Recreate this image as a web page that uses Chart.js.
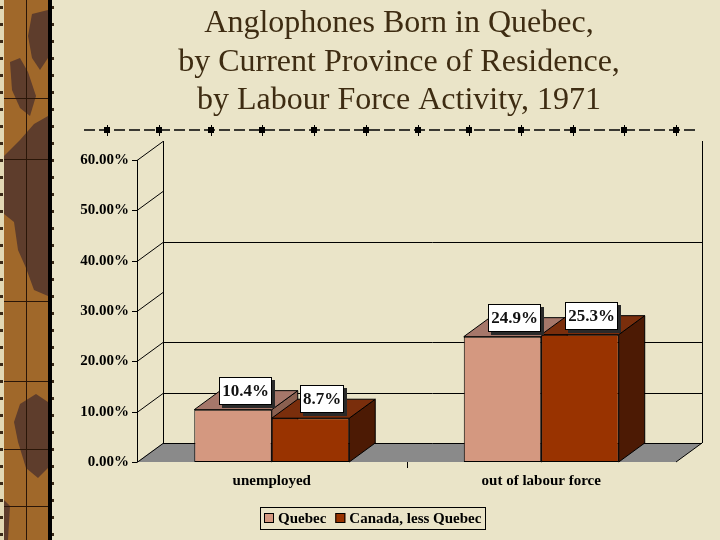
<!DOCTYPE html>
<html><head><meta charset="utf-8">
<script src="https://cdn.jsdelivr.net/npm/chart.js@4.4.1/dist/chart.umd.min.js"></script>
<style>html,body{margin:0;padding:0;background:#EAE4C8;}canvas{display:block}</style>
</head><body><canvas id="c" width="720" height="540"></canvas>
<script>
// ---- data ----
const titleLines = ['Anglophones Born in Quebec,', 'by Current Province of Residence,', 'by Labour Force Activity, 1971'];
const categories = ['unemployed', 'out of labour force'];
const seriesNames = ['Quebec', 'Canada, less Quebec'];
const quebecValues = [10.4, 24.9];
const canadaLessQuebecValues = [8.7, 25.3];
const yMin = 0, yMax = 60, yStep = 10;
const backGridValues = [10, 20, 40];

// ---- styles ----
const SERIF = '"Liberation Serif","Times New Roman",serif';
const DX = 26, DY = -19;
const PARCHMENT = '#EAE4C8';
const faces = [
  { front: '#D49880', top: '#A6776A', side: '#8A6050' },
  { front: '#993300', top: '#7A2E0C', side: '#4C1A04' }
];

function poly(ctx, pts, fill, stroke) {
  ctx.beginPath();
  ctx.moveTo(pts[0][0], pts[0][1]);
  for (let i = 1; i < pts.length; i++) ctx.lineTo(pts[i][0], pts[i][1]);
  ctx.closePath();
  if (fill) { ctx.fillStyle = fill; ctx.fill(); }
  if (stroke) { ctx.strokeStyle = stroke; ctx.lineWidth = 1; ctx.stroke(); }
}

function drawStrip(ctx) {
  ctx.fillStyle = '#E2D8B4'; ctx.fillRect(0, 0, 4, 540);
  ctx.fillStyle = '#A0682A'; ctx.fillRect(4, 0, 44, 540);
  const dark = '#5E3D2C';
  poly(ctx, [[32,14],[48,10],[48,58],[40,70],[32,58],[28,36]], dark);
  poly(ctx, [[10,62],[20,58],[28,72],[36,96],[30,116],[20,108],[12,90]], dark);
  poly(ctx, [[34,124],[48,116],[48,296],[34,290],[26,268],[18,250],[14,222],[4,214],[4,156],[20,140]], dark);
  poly(ctx, [[20,404],[36,394],[48,402],[48,468],[38,478],[26,468],[18,442],[14,422]], dark);
  poly(ctx, [[4,500],[10,506],[8,540],[4,540]], dark);
  ctx.strokeStyle = '#2A1608'; ctx.lineWidth = 1;
  ctx.beginPath(); ctx.moveTo(26.5, 0); ctx.lineTo(26.5, 540); ctx.stroke();
  [98, 159, 301, 381, 449, 506].forEach(y => {
    ctx.beginPath(); ctx.moveTo(4, y + 0.5); ctx.lineTo(48, y + 0.5); ctx.stroke();
  });
  ctx.fillStyle = '#000'; ctx.fillRect(48, 0, 4, 540);
  ctx.fillStyle = '#3A2A18';
  for (let y = 6; y < 540; y += 17) { ctx.fillRect(0, y, 3, 3); ctx.fillRect(52, y, 2, 3); }
}

function drawTitle(ctx) {
  ctx.save();
  ctx.fillStyle = '#3E2C12';
  ctx.font = '32px ' + SERIF;
  ctx.textAlign = 'center'; ctx.textBaseline = 'alphabetic';
  const base = [32, 71, 109];
  titleLines.forEach((t, i) => ctx.fillText(t, 399, base[i]));
  ctx.restore();
}

function drawRule(ctx) {
  ctx.save();
  ctx.strokeStyle = '#000'; ctx.lineWidth = 1.3;
  ctx.setLineDash([11, 4]);
  ctx.beginPath(); ctx.moveTo(84, 130); ctx.lineTo(696, 130); ctx.stroke();
  ctx.setLineDash([]);
  ctx.fillStyle = '#000'; ctx.lineWidth = 1;
  for (let i = 0; i < 12; i++) {
    const cx = Math.round(107.3 + i * 51.7);
    ctx.fillRect(cx - 3, 127, 6, 6);
    ctx.beginPath(); ctx.moveTo(cx + 0.5, 125); ctx.lineTo(cx + 0.5, 136); ctx.stroke();
  }
  ctx.restore();
}

const scenePlugin = {
  id: 'scene',
  beforeDraw(chart) {
    const ctx = chart.ctx;
    ctx.save();
    ctx.fillStyle = PARCHMENT; ctx.fillRect(0, 0, chart.width, chart.height);
    drawStrip(ctx);
    drawTitle(ctx);
    drawRule(ctx);
    const a = chart.chartArea, ys = chart.scales.y, xs = chart.scales.x;
    const L = a.left, R = a.right, B = ys.getPixelForValue(yMin), T = ys.getPixelForValue(yMax);
    poly(ctx, [[L, B], [R, B], [R + DX, B + DY], [L + DX, B + DY]], '#8A8A8A');
    ctx.strokeStyle = '#000'; ctx.lineWidth = 1;
    ctx.beginPath();
    ctx.moveTo(L + DX, B + DY + 0.5); ctx.lineTo(R + DX, B + DY + 0.5);
    ctx.moveTo(R, B); ctx.lineTo(R + DX, B + DY);
    ctx.stroke();
    backGridValues.forEach(v => {
      const y = Math.round(ys.getPixelForValue(v) + DY) + 0.5;
      ctx.beginPath(); ctx.moveTo(L + DX, y); ctx.lineTo(R + DX, y); ctx.stroke();
    });
    ctx.beginPath();
    ctx.moveTo(Math.round(L + DX) + 0.5, T + DY); ctx.lineTo(Math.round(L + DX) + 0.5, B + DY);
    ctx.moveTo(Math.round(R + DX) + 0.5, T + DY); ctx.lineTo(Math.round(R + DX) + 0.5, B + DY);
    ctx.stroke();
    ctx.beginPath();
    ctx.moveTo(Math.round(L) + 0.5, T); ctx.lineTo(Math.round(L) + 0.5, B);
    ys.ticks.forEach(t => {
      const y = Math.round(ys.getPixelForValue(t.value)) + 0.5;
      ctx.moveTo(L - 5, y); ctx.lineTo(L, y);
      ctx.moveTo(L, y); ctx.lineTo(L + DX, y + DY);
    });
    for (let i = 1; i < categories.length; i++) {
      const xm = Math.round((xs.getPixelForValue(i - 1) + xs.getPixelForValue(i)) / 2) + 0.5;
      ctx.moveTo(xm, B); ctx.lineTo(xm, B + 6);
    }
    ctx.stroke();
    ctx.restore();
  },
  beforeDatasetsDraw(chart) {
    const ctx = chart.ctx;
    ctx.save();
    for (let i = 0; i < categories.length; i++) {
      chart.data.datasets.forEach((ds, d) => {
        const bar = chart.getDatasetMeta(d).data[i];
        const p = bar.getProps(['x', 'y', 'width', 'base'], true);
        const l = p.x - p.width / 2, r = p.x + p.width / 2;
        poly(ctx, [[r, p.y], [r + DX, p.y + DY], [r + DX, p.base + DY], [r, p.base]], faces[d].side, '#000');
        poly(ctx, [[l, p.y], [r, p.y], [r + DX, p.y + DY], [l + DX, p.y + DY]], faces[d].top, '#000');
      });
    }
    ctx.restore();
  },
  afterDatasetsDraw(chart) {
    const ctx = chart.ctx;
    ctx.save();
    ctx.font = 'bold 17px ' + SERIF;
    ctx.textAlign = 'center'; ctx.textBaseline = 'middle';
    chart.data.datasets.forEach((ds, d) => {
      chart.getDatasetMeta(d).data.forEach((bar, i) => {
        const p = bar.getProps(['x', 'y'], true);
        const txt = ds.data[i].toFixed(1) + '%';
        const w = Math.round(ctx.measureText(txt).width + 6), h = 28;
        const cx = p.x + 12, cy = p.y - 19;
        const x0 = Math.round(cx - w / 2), y0 = Math.round(cy - h / 2);
        ctx.fillStyle = '#2a2a2a'; ctx.fillRect(x0 + 3, y0 + 3, w, h);
        ctx.fillStyle = '#fff'; ctx.fillRect(x0, y0, w, h);
        ctx.strokeStyle = '#000'; ctx.lineWidth = 1; ctx.strokeRect(x0 + 0.5, y0 + 0.5, w - 1, h - 1);
        ctx.fillStyle = '#111'; ctx.fillText(txt, x0 + w / 2, y0 + h / 2 + 1);
      });
    });
    ctx.restore();
  },
  afterDraw(chart) {
    const ctx = chart.ctx;
    ctx.save();
    ctx.font = 'bold 15px ' + SERIF;
    const widths = chart.data.datasets.map(ds => ctx.measureText(ds.label).width);
    const sq = 10, gap = 4, itemGap = 9, pad = 4;
    const total = pad * 2 + widths.reduce((s, w) => s + sq + gap + w, 0) + itemGap * (widths.length - 1);
    const cxL = 373, top = 507, h = 22;
    const x0 = Math.round(cxL - total / 2);
    ctx.strokeStyle = '#000'; ctx.lineWidth = 1;
    ctx.strokeRect(x0 + 0.5, top + 0.5, Math.round(total), h);
    let x = x0 + pad;
    ctx.textBaseline = 'middle'; ctx.textAlign = 'left';
    chart.data.datasets.forEach((ds, d) => {
      ctx.fillStyle = ds.backgroundColor; ctx.fillRect(x, top + 6, sq, sq);
      ctx.strokeRect(x + 0.5, top + 6.5, sq - 1, sq - 1);
      x += sq + gap;
      ctx.fillStyle = '#000'; ctx.fillText(ds.label, x, top + h / 2 + 1);
      x += widths[d] + itemGap;
    });
    ctx.restore();
  }
};

new Chart(document.getElementById('c'), {
  type: 'bar',
  data: {
    labels: categories,
    datasets: [
      { label: seriesNames[0], data: quebecValues, backgroundColor: faces[0].front, borderColor: '#000', borderWidth: 1, borderSkipped: false },
      { label: seriesNames[1], data: canadaLessQuebecValues, backgroundColor: faces[1].front, borderColor: '#000', borderWidth: 1, borderSkipped: false }
    ]
  },
  options: {
    responsive: false, animation: false, devicePixelRatio: 1,
    categoryPercentage: 0.575, barPercentage: 1.0,
    layout: { padding: { left: 57, right: 44, top: 160, bottom: 38 } },
    plugins: { legend: { display: false }, title: { display: false }, tooltip: { enabled: false } },
    scales: {
      x: {
        grid: { display: false, drawTicks: false }, border: { display: false },
        ticks: { color: '#000', font: { family: SERIF, size: 15, weight: 'bold' }, padding: 10, maxRotation: 0 },
        afterFit: s => { s.height = 40; }
      },
      y: {
        min: yMin, max: yMax,
        grid: { display: false, drawTicks: false }, border: { display: false },
        ticks: { stepSize: yStep, color: '#000', font: { family: SERIF, size: 15, weight: 'bold' }, padding: 8,
          callback: v => v.toFixed(2) + '%' },
        afterFit: s => { s.width = 80; }
      }
    }
  },
  plugins: [scenePlugin]
});
</script>
</body></html>
